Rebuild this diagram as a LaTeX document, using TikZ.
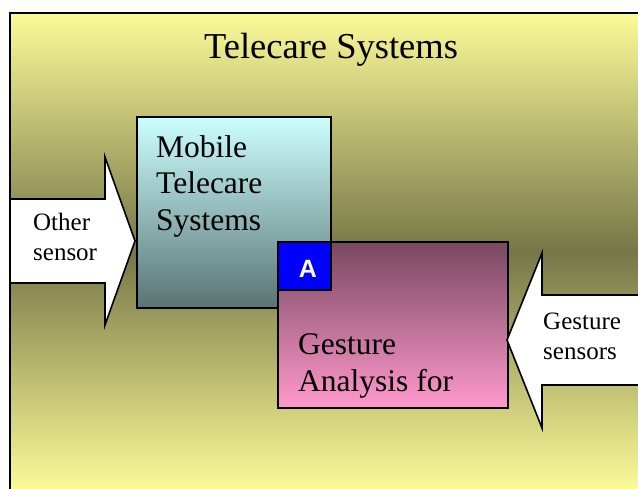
\documentclass[tikz,border=0pt]{standalone}
\usepackage{fontspec}
\setmainfont{Liberation Serif}
\setsansfont{Liberation Sans}
\definecolor{bgY}{RGB}{252,251,152}
\definecolor{bgO}{RGB}{118,118,72}
\definecolor{cyT}{RGB}{204,255,255}
\definecolor{cyB}{RGB}{90,115,115}
\definecolor{pkT}{RGB}{120,72,96}
\definecolor{pkB}{RGB}{255,153,204}
\begin{document}
\begin{tikzpicture}[x=1pt,y=1pt,
  boxstyle/.style={draw=black, line width=1.6pt, anchor=north west, inner sep=0pt},
  arrowshape/.style={fill=white, draw=black, line width=1.6pt, line join=miter},
  boxtext/.style={font=\fontsize{31.5}{36.5}\selectfont, align=left, anchor=base west, inner sep=0pt},
  arrowtext/.style={font=\fontsize{25}{29.5}\selectfont, align=left, anchor=base west, inner sep=0pt}]
\useasboundingbox (0,0) rectangle (638,-488);
\clip (0,0) rectangle (638,-488);
\fill[white] (0,0) rectangle (638,-488);
% slide background
\path[top color=bgY, bottom color=bgY, middle color=bgO] (10,-13) rectangle (660,-490);
% title
\node[font=\fontsize{36.5}{40}\selectfont, anchor=base, inner sep=0pt] (title) at (331,-58) {Telecare Systems};
% left block arrow
\filldraw[arrowshape] (10,-199) -- (105,-199) -- (105,-157) -- (135,-241) -- (105,-325) -- (105,-283) -- (10,-283);
\node[arrowtext] (othertext) at (33,-260) {Other\\sensor};
% boxes
\node[boxstyle, top color=cyT, bottom color=cyB, minimum width=194pt, minimum height=191pt] (mobile) at (136,-116) {};
\node[boxtext] (mobiletext) at (156,-230) {Mobile\\Telecare\\Systems};
\node[boxstyle, top color=pkT, bottom color=pkB, minimum width=230pt, minimum height=166pt] (gesture) at (277,-241) {};
\node[boxtext] (gesturetext) at (298,-391) {Gesture\\Analysis for};
\node[boxstyle, fill=blue, minimum width=53pt, minimum height=48pt] (abox) at (277,-241) {};
\node[font=\sffamily\bfseries\fontsize{25}{25}\selectfont, text=white, inner sep=0pt] (alabel) at (308,-269) {A};
% right block arrow
\filldraw[arrowshape] (650,-295) -- (542,-295) -- (542,-253) -- (507,-340) -- (542,-428) -- (542,-385) -- (650,-385);
\node[arrowtext] (gesturesens) at (543,-359) {Gesture\\sensors};
% slide border
\draw[line width=2pt] (10,-500) -- (10,-13) -- (660,-13);
\end{tikzpicture}
\end{document}
